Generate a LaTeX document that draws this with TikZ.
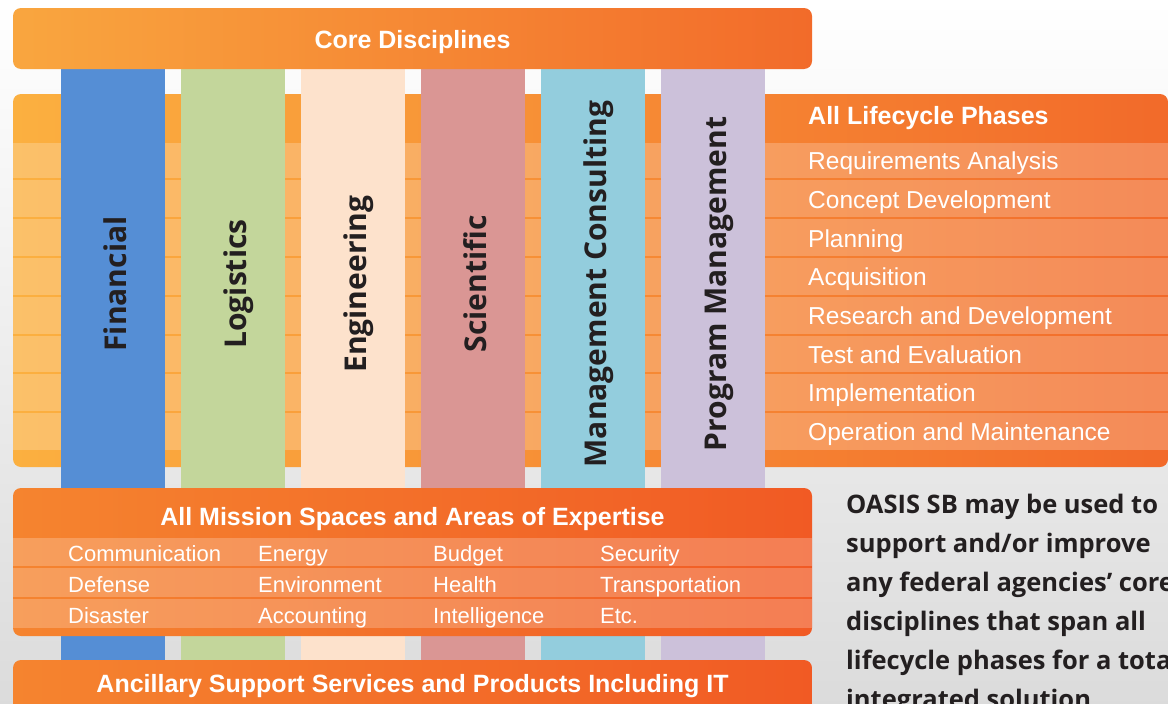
\documentclass[tikz,border=0pt]{standalone}
\usepackage{fontspec}
\setmainfont{Liberation Sans}
\newfontfamily\pillarfont{Open Sans}
\definecolor{coreL}{HTML}{F9A63F}
\definecolor{coreR}{HTML}{F26B2A}
\definecolor{bandL}{HTML}{FBB040}
\definecolor{bandR}{HTML}{F26A2A}
\definecolor{missL}{HTML}{F5842F}
\definecolor{missR}{HTML}{F15A24}
\definecolor{finblue}{HTML}{558ED5}
\definecolor{loggreen}{HTML}{C3D69B}
\definecolor{engpeach}{HTML}{FDE2CC}
\definecolor{scirose}{HTML}{DA9694}
\definecolor{mancyan}{HTML}{93CDDD}
\definecolor{prglav}{HTML}{CCC1DA}
\definecolor{darktext}{HTML}{231F20}
\begin{document}
\begin{tikzpicture}[x=1pt,y=-1pt,
	headtxt/.style={text=white,inner sep=0pt,anchor=base,font=\fontsize{25}{30}\selectfont\bfseries},
	phasetxt/.style={text=white,inner sep=0pt,anchor=base west,font=\fontsize{24.5}{29}\selectfont},
	areatxt/.style={text=white,inner sep=0pt,anchor=base west,font=\fontsize{22}{26}\selectfont},
	pillartxt/.style={text=darktext,inner sep=0pt,anchor=base,rotate=90,font=\pillarfont\fontsize{30}{36}\selectfont\bfseries},
	notetxt/.style={text=darktext,inner sep=0pt,anchor=base west,font=\pillarfont\fontsize{25.5}{30}\selectfont\bfseries},
	rowhi/.style={fill=white,fill opacity=.22}]
		\useasboundingbox(0,0)rectangle(1168,704);
		\clip(0,0)rectangle(1168,704);
		\shade[top color=white,bottom color=black!14](0,0)rectangle(1168,704);
		% lifecycle band
		\shade[left color=bandL,right color=bandR,rounded corners=8pt](13,94)rectangle(1168,467);
		\fill[rowhi](13,143)rectangle(1168,178);
		\fill[rowhi](13,180)rectangle(1168,217);
		\fill[rowhi](13,219)rectangle(1168,256);
		\fill[rowhi](13,258)rectangle(1168,295);
		\fill[rowhi](13,297)rectangle(1168,334);
		\fill[rowhi](13,336)rectangle(1168,372);
		\fill[rowhi](13,374)rectangle(1168,411);
		\fill[rowhi](13,413)rectangle(1168,450);
		% pillars
		\fill[finblue](61,69)rectangle(165,704);
		\fill[loggreen](181,69)rectangle(285,704);
		\fill[engpeach](301,69)rectangle(405,704);
		\fill[scirose](421,69)rectangle(525,704);
		\fill[mancyan](541,69)rectangle(645,704);
		\fill[prglav](661,69)rectangle(765,704);
		\node[pillartxt](fin)at(126,284){Financial};
		\node[pillartxt](log)at(246,284){Logistics};
		\node[pillartxt](eng)at(366,284){Engineering};
		\node[pillartxt](sci)at(486,284){Scientific};
		\node[pillartxt](man)at(606,284){Management Consulting};
		\node[pillartxt](prg)at(726,284){Program Management};
		% core bar
		\shade[left color=coreL,right color=coreR,rounded corners=8pt](13,8)rectangle(812,69);
		\node[headtxt](core)at(412.5,48){Core Disciplines};
		% phases
		\node[headtxt,anchor=base west](phases)at(808,124){All Lifecycle Phases};
		\node[phasetxt](ph1)at(808,169){Requirements Analysis};
		\node[phasetxt](ph2)at(808,208){Concept Development};
		\node[phasetxt](ph3)at(808,247){Planning};
		\node[phasetxt](ph4)at(808,285){Acquisition};
		\node[phasetxt](ph5)at(808,324){Research and Development};
		\node[phasetxt](ph6)at(808,363){Test and Evaluation};
		\node[phasetxt](ph7)at(808,401){Implementation};
		\node[phasetxt](ph8)at(808,440){Operation and Maintenance};
		% mission bar
		\shade[left color=missL,right color=missR,rounded corners=8pt](13,488)rectangle(812,636);
		\fill[rowhi](13,538)rectangle(812,566);
		\fill[rowhi](13,568)rectangle(812,597);
		\fill[rowhi](13,599)rectangle(812,628);
		\node[headtxt](mission)at(412.5,525){All Mission Spaces and Areas of Expertise};
		\node[areatxt](ar1)at(68,561){Communication};
		\node[areatxt](ar2)at(258,561){Energy};
		\node[areatxt](ar3)at(433,561){Budget};
		\node[areatxt](ar4)at(600,561){Security};
		\node[areatxt](ar5)at(68,592){Defense};
		\node[areatxt](ar6)at(258,592){Environment};
		\node[areatxt](ar7)at(433,592){Health};
		\node[areatxt](ar8)at(600,592){Transportation};
		\node[areatxt](ar9)at(68,623){Disaster};
		\node[areatxt](ar10)at(258,623){Accounting};
		\node[areatxt](ar11)at(433,623){Intelligence};
		\node[areatxt](ar12)at(600,623){Etc.};
		% ancillary bar
		\shade[left color=missL,right color=missR,rounded corners=8pt](13,660)rectangle(812,724);
		\node[headtxt](ancil)at(412.5,692){Ancillary Support Services and Products Including IT};
		% note
		\node[notetxt](note1)at(846,513){OASIS SB may be used to};
		\node[notetxt](note2)at(846,552){support and/or improve};
		\node[notetxt](note3)at(846,591){any federal agencies’ core};
		\node[notetxt](note4)at(846,630){disciplines that span all};
		\node[notetxt](note5)at(846,669){lifecycle phases for a total};
		\node[notetxt](note6)at(846,708){integrated solution.};
\end{tikzpicture}
\end{document}
